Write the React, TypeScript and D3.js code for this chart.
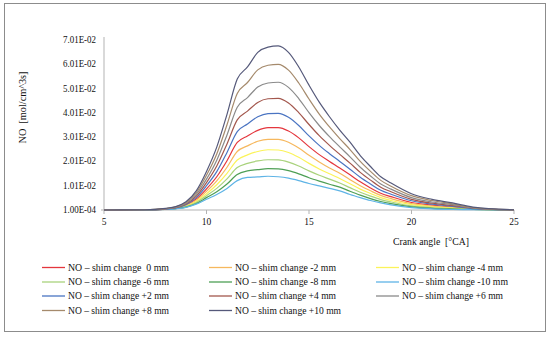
import React from "react";
import * as d3 from "d3";

const crankAngle = [5, 7, 8, 8.5, 9, 9.5, 10, 10.5, 11, 11.5, 12, 12.5, 13, 13.5, 14, 14.5, 15, 15.5, 16, 16.5, 17, 17.5, 18, 18.5, 19, 20, 21, 22, 23, 25];

const no0 = [0.0001,0.0001,0.0005,0.0009,0.0021,0.0046,0.0088,0.0138,0.0204,0.0279,0.0306,0.0329,0.0340,0.0340,0.0326,0.0298,0.0262,0.0229,0.0201,0.0174,0.0146,0.0117,0.0092,0.0070,0.0056,0.0032,0.0021,0.0013,0.0006,0.0001];
const noM2 = [0.0001,0.0001,0.0004,0.0009,0.0019,0.0041,0.0078,0.0121,0.0177,0.0242,0.0265,0.0284,0.0292,0.0292,0.0280,0.0256,0.0226,0.0199,0.0174,0.0152,0.0126,0.0101,0.0080,0.0061,0.0048,0.0027,0.0017,0.0011,0.0005,0.0001];
const noM4 = [0.0001,0.0001,0.0004,0.0008,0.0017,0.0036,0.0068,0.0105,0.0152,0.0207,0.0228,0.0242,0.0249,0.0248,0.0238,0.0218,0.0193,0.0170,0.0150,0.0131,0.0109,0.0087,0.0069,0.0052,0.0040,0.0023,0.0014,0.0009,0.0004,0.0001];
const noM6 = [0.0001,0.0001,0.0004,0.0007,0.0015,0.0032,0.0060,0.0090,0.0129,0.0176,0.0193,0.0203,0.0208,0.0207,0.0198,0.0182,0.0162,0.0144,0.0128,0.0112,0.0093,0.0074,0.0058,0.0044,0.0034,0.0018,0.0011,0.0007,0.0003,0.0001];
const noM8 = [0.0001,0.0001,0.0003,0.0007,0.0013,0.0028,0.0052,0.0076,0.0108,0.0147,0.0162,0.0167,0.0171,0.0170,0.0163,0.0150,0.0134,0.0120,0.0107,0.0095,0.0078,0.0062,0.0048,0.0036,0.0027,0.0014,0.0008,0.0005,0.0003,0.0001];
const noM10 = [0.0001,0.0001,0.0003,0.0006,0.0012,0.0025,0.0045,0.0065,0.0090,0.0122,0.0135,0.0137,0.0140,0.0138,0.0132,0.0122,0.0110,0.0100,0.0090,0.0080,0.0065,0.0052,0.0040,0.0030,0.0022,0.0011,0.0006,0.0003,0.0002,0.0001];
const noP2 = [0.0001,0.0001,0.0005,0.0010,0.0023,0.0052,0.0101,0.0159,0.0238,0.0324,0.0355,0.0385,0.0398,0.0399,0.0383,0.0349,0.0306,0.0267,0.0233,0.0201,0.0169,0.0136,0.0108,0.0082,0.0066,0.0039,0.0025,0.0016,0.0007,0.0001];
const noP4 = [0.0001,0.0002,0.0006,0.0011,0.0026,0.0058,0.0114,0.0182,0.0273,0.0372,0.0408,0.0444,0.0459,0.0461,0.0442,0.0402,0.0353,0.0307,0.0267,0.0230,0.0194,0.0156,0.0124,0.0095,0.0076,0.0045,0.0029,0.0019,0.0009,0.0001];
const noP6 = [0.0001,0.0002,0.0007,0.0012,0.0029,0.0065,0.0128,0.0206,0.0310,0.0424,0.0464,0.0507,0.0524,0.0527,0.0506,0.0460,0.0402,0.0349,0.0303,0.0261,0.0220,0.0177,0.0141,0.0108,0.0087,0.0052,0.0034,0.0023,0.0010,0.0001];
const noP8 = [0.0001,0.0002,0.0007,0.0014,0.0032,0.0072,0.0144,0.0232,0.0352,0.0481,0.0526,0.0578,0.0597,0.0601,0.0577,0.0524,0.0458,0.0396,0.0343,0.0295,0.0250,0.0201,0.0160,0.0123,0.0099,0.0060,0.0040,0.0026,0.0011,0.0002];
const noP10 = [0.0001,0.0002,0.0008,0.0015,0.0035,0.0080,0.0160,0.0260,0.0395,0.0540,0.0590,0.0650,0.0672,0.0677,0.0650,0.0590,0.0515,0.0445,0.0385,0.0330,0.0280,0.0225,0.0180,0.0138,0.0112,0.0068,0.0045,0.0030,0.0013,0.0002];

const seriesNames = [
  "NO \u2013 shim change  0 mm",
  "NO \u2013 shim change -2 mm",
  "NO \u2013 shim change -4 mm",
  "NO \u2013 shim change -6 mm",
  "NO \u2013 shim change -8 mm",
  "NO \u2013 shim change -10 mm",
  "NO \u2013 shim change +2 mm",
  "NO \u2013 shim change +4 mm",
  "NO \u2013 shim change +6 mm",
  "NO \u2013 shim change +8 mm",
  "NO \u2013 shim change +10 mm",
];
const seriesValues = [no0, noM2, noM4, noM6, noM8, noM10, noP2, noP4, noP6, noP8, noP10];
const seriesColors = [
  "#e4363d", "#f6b85e", "#fbf35a", "#a9d27c", "#4e9f55", "#5fb4e6",
  "#4a74c2", "#a3574d", "#8a8a8a", "#a58a6c", "#55597a",
];

const xTicks = [5, 10, 15, 20, 25];
const yTicks = [0.0001, 0.0101, 0.0201, 0.0301, 0.0401, 0.0501, 0.0601, 0.0701];
const yTickLabels = ["1.00E-04", "1.01E-02", "2.01E-02", "3.01E-02", "4.01E-02", "5.01E-02", "6.01E-02", "7.01E-02"];

const W = 550;
const H = 338;
const FONT = "'Liberation Serif', 'DejaVu Serif', serif";
const INK = "#111";

export default function App() {
  const x = d3.scaleLinear().domain([5, 25]).range([104, 514]);
  const y = d3.scaleLinear().domain([0.0001, 0.0701]).range([210, 40]);
  const line = d3
    .line<[number, number]>()
    .x((d) => x(d[0]))
    .y((d) => y(d[1]))
    .curve(d3.curveMonotoneX);

  const legendCols = [42, 209, 376];
  const legendRowY = [267.5, 282, 296, 310.5];

  return (
    <svg
      width={W}
      height={H}
      style={{ position: "absolute", left: 0, top: 0, background: "#fff" }}
      fontFamily={FONT}
    >
      <rect x={4.5} y={3.5} width={541} height={328} fill="#fff" stroke="#8c8c8c" strokeWidth={1} />

      {/* axes */}
      <line x1={x(5)} x2={x(5)} y1={37} y2={y(0.0001)} stroke="#b3b3b3" strokeWidth={1} />
      <line x1={x(5) - 3} x2={x(25)} y1={y(0.0001)} y2={y(0.0001)} stroke="#b3b3b3" strokeWidth={1.2} />
      {xTicks.map((t) => (
        <g key={t}>
          <line x1={x(t)} x2={x(t)} y1={y(0.0001)} y2={y(0.0001) + 4} stroke="#b3b3b3" />
          <text x={x(t)} y={y(0.0001) + 15} textAnchor="middle" fontSize={9.5} fill={INK}>
            {t}
          </text>
        </g>
      ))}
      {yTicks.map((t, i) => (
        <text
          key={t}
          x={96}
          y={y(t) + 3}
          textAnchor="end"
          fontSize={9.5}
          fill={INK}
          textLength={33}
          lengthAdjust="spacingAndGlyphs"
        >
          {yTickLabels[i]}
        </text>
      ))}

      <text
        transform={`translate(26,107.5) rotate(-90)`}
        textAnchor="middle"
        fontSize={10}
        fill={INK}
        style={{ whiteSpace: "pre" }}
        textLength={72}
        lengthAdjust="spacingAndGlyphs"
      >
        {"NO  [mol/cm^3s]"}
      </text>
      <text
        x={393}
        y={245}
        fontSize={10}
        fill={INK}
        style={{ whiteSpace: "pre" }}
        textLength={76}
        lengthAdjust="spacingAndGlyphs"
      >
        {"Crank angle  [\u00B0CA]"}
      </text>

      {/* series */}
      {seriesValues.map((vals, i) => (
        <path
          key={i}
          d={line(crankAngle.map((a, j) => [a, vals[j]] as [number, number])) || ""}
          fill="none"
          stroke={seriesColors[i]}
          strokeWidth={1.2}
        />
      ))}

      {/* legend */}
      {seriesNames.map((name, i) => {
        const col = i % 3;
        const row = Math.floor(i / 3);
        const lx = legendCols[col];
        const ly = legendRowY[row];
        return (
          <g key={name}>
            <line x1={lx} x2={lx + 23} y1={ly} y2={ly} stroke={seriesColors[i]} strokeWidth={1.3} />
            <text
              x={lx + 26}
              y={ly + 3.2}
              fontSize={9.8}
              fill={INK}
              style={{ whiteSpace: "pre" }}
              textLength={name.length > 22 ? 106 : 101}
              lengthAdjust="spacingAndGlyphs"
            >
              {name}
            </text>
          </g>
        );
      })}
    </svg>
  );
}
